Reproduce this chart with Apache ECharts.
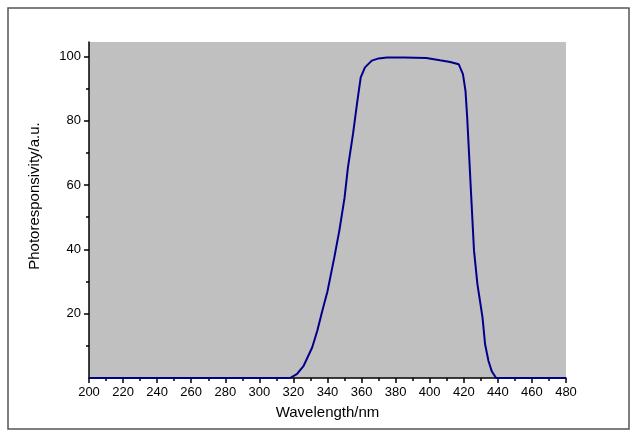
<!DOCTYPE html>
<html>
<head>
<meta charset="utf-8">
<script src="https://cdn.jsdelivr.net/npm/echarts@6/dist/echarts.min.js"></script>
<style>
  html, body { margin: 0; padding: 0; background: #fff; }
  #chart { width: 633px; height: 438px; }
</style>
</head>
<body>
<div id="chart"></div>
<script>
// wavelength (nm) and photoresponsivity (a.u.)
const wavelength = [200, 318, 322, 326, 331, 334, 337, 340, 344, 347, 350, 352, 355, 357.5, 359.5, 362, 366, 370, 375, 385, 398, 406, 412, 417, 419.5, 421, 422, 423, 424.5, 426, 428, 431, 432.5, 434.5, 436.5, 439, 480];
const response = [0, 0, 1.2, 3.8, 9.5, 14.7, 21, 27, 37.5, 46, 56, 65.5, 76, 86, 93.5, 96.6, 98.7, 99.4, 99.7, 99.7, 99.5, 98.8, 98.3, 97.6, 94.5, 89.3, 81, 70.7, 55, 39.6, 29.2, 18.8, 10.5, 5.3, 2, 0, 0];
const xTicks = [200, 220, 240, 260, 280, 300, 320, 340, 360, 380, 400, 420, 440, 460, 480];
const yTicks = [20, 40, 60, 80, 100];

const font = "Arial, 'Liberation Sans', sans-serif";
const chart = echarts.init(document.getElementById("chart"));

chart.setOption({
  animation: false,
  backgroundColor: "#fff",
  grid: {
    left: 89,
    top: 42,
    right: 67,
    bottom: 60,
    show: true,
    backgroundColor: "#c0c0c0",
    borderWidth: 0,
  },
  xAxis: {
    type: "value",
    min: xTicks[0],
    max: xTicks[xTicks.length - 1],
    interval: 20,
    name: "Wavelength/nm",
    nameLocation: "middle",
    nameGap: 27,
    nameTextStyle: { fontFamily: font, fontSize: 15, color: "#000" },
    axisLine: { show: true, onZero: false, lineStyle: { color: "#000", width: 1.5 } },
    axisTick: { show: true, inside: false, length: 5, lineStyle: { color: "#000", width: 1.5 } },
    minorTick: { show: true, splitNumber: 2, length: 3, lineStyle: { color: "#000", width: 1.5 } },
    splitLine: { show: false },
    axisLabel: { fontFamily: font, fontSize: 13, color: "#000", margin: 8 },
  },
  yAxis: {
    type: "value",
    min: 0,
    max: 104.5,
    interval: 20,
    axisLine: { show: true, onZero: false, lineStyle: { color: "#000", width: 1.5 } },
    axisTick: { show: true, length: 5, customValues: yTicks, lineStyle: { color: "#000", width: 1.5 } },
    minorTick: { show: true, splitNumber: 2, length: 3, lineStyle: { color: "#000", width: 1.5 } },
    splitLine: { show: false },
    axisLabel: {
      fontFamily: font,
      fontSize: 13,
      color: "#000",
      margin: 8,
      customValues: yTicks,
    },
  },
  graphic: [
    {
      type: "rect",
      shape: { x: 8, y: 8, width: 621, height: 421 },
      style: { fill: "none", stroke: "#555", lineWidth: 1.5 },
      z: 10,
    },
    {
      type: "text",
      x: 35,
      y: 196,
      rotation: Math.PI / 2,
      style: {
        text: "Photoresponsivity/a.u.",
        font: "15px " + font,
        fill: "#000",
        align: "center",
        verticalAlign: "middle",
      },
    },
  ],
  series: [
    {
      type: "line",
      data: wavelength.map((w, i) => [w, response[i]]),
      showSymbol: false,
      smooth: false,
      lineStyle: { color: "#00008b", width: 2 },
      clip: true,
    },
  ],
});
</script>
</body>
</html>
